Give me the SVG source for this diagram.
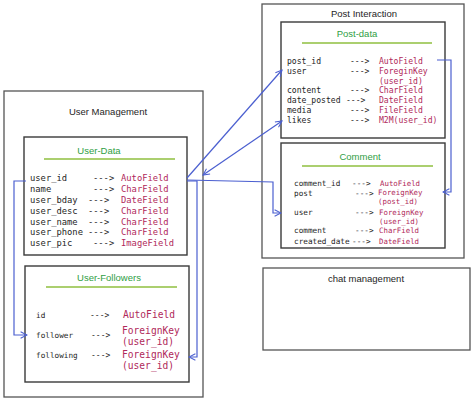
<svg xmlns="http://www.w3.org/2000/svg" width="474" height="408" viewBox="0 0 474 408">
<defs>
<style>
.box{fill:#fff;stroke:#3a3a3a;stroke-width:1.4}
.outer{fill:#fff;stroke:#555;stroke-width:1.3}
.title{font-family:"Liberation Sans",Arial,sans-serif;font-size:9.5px;fill:#1e1e1e;text-anchor:middle}
.sub{font-family:"Liberation Sans",Arial,sans-serif;font-size:9.5px;fill:#2f9e44;text-anchor:middle}
.ul{stroke:#8fbf3f;stroke-width:1.6}
.n{font-family:"DejaVu Sans Mono","Liberation Mono",monospace;fill:#1e1e1e}
.t{font-family:"DejaVu Sans Mono","Liberation Mono",monospace;fill:#b0285a}
.c{fill:none;stroke:#4b5fd0;stroke-width:1.2}
</style>
<marker id="ah" viewBox="0 0 10 10" refX="9" refY="5" markerWidth="8" markerHeight="8" orient="auto-start-reverse" markerUnits="userSpaceOnUse">
<path d="M1,1 L9,5 L1,9" fill="none" stroke="#4b5fd0" stroke-width="1.3"/>
</marker>
</defs>
<rect width="474" height="408" fill="#fff"/>

<g id="user-management">
<rect class="outer" x="4" y="91" width="199" height="306"/>
<text class="title" x="108" y="115">User Management</text>
</g>

<g id="user-data">
<rect class="box" x="24" y="137" width="163" height="118"/>
<text class="sub" x="99" y="154">User-Data</text>
<line class="ul" x1="44" y1="159" x2="175" y2="159"/>
<g font-size="8.8">
<text class="n" x="30" y="181">user_id</text>
<text class="n" x="30" y="192">name</text>
<text class="n" x="30" y="203">user_bday</text>
<text class="n" x="30" y="214">user_desc</text>
<text class="n" x="30" y="225">user_name</text>
<text class="n" x="30" y="235">user_phone</text>
<text class="n" x="30" y="246">user_pic</text>
<text class="n" x="93" y="181">---&gt;</text>
<text class="n" x="93" y="192">---&gt;</text>
<text class="n" x="88" y="203">---&gt;</text>
<text class="n" x="88" y="214">---&gt;</text>
<text class="n" x="88" y="225">---&gt;</text>
<text class="n" x="88" y="235">---&gt;</text>
<text class="n" x="93" y="246">---&gt;</text>
<text class="t" x="121" y="181">AutoField</text>
<text class="t" x="121" y="192">CharField</text>
<text class="t" x="121" y="203">DateField</text>
<text class="t" x="121" y="214">CharField</text>
<text class="t" x="121" y="225">CharField</text>
<text class="t" x="121" y="235">CharField</text>
<text class="t" x="121" y="246">ImageField</text>
</g>
</g>

<g id="user-followers">
<rect class="box" x="25" y="266" width="164" height="116"/>
<text class="sub" x="109" y="281">User-Followers</text>
<line class="ul" x1="46" y1="287" x2="177" y2="287"/>
<text class="n" x="36" y="318" font-size="7.7">id</text>
<text class="n" x="36" y="338" font-size="7.7">follower</text>
<text class="n" x="36" y="358" font-size="7.7">following</text>
<text class="n" x="90" y="318" font-size="8">---&gt;</text>
<text class="n" x="91" y="338" font-size="8">---&gt;</text>
<text class="n" x="91" y="358" font-size="8">---&gt;</text>
<g font-size="9.6">
<text class="t" x="123" y="318">AutoField</text>
<text class="t" x="122" y="334">ForeignKey</text>
<text class="t" x="122" y="345">(user_id)</text>
<text class="t" x="122" y="358">ForeignKey</text>
<text class="t" x="122" y="369">(user_id)</text>
</g>
</g>

<g id="post-interaction">
<rect class="outer" x="262" y="4" width="202" height="254"/>
<text class="title" x="364" y="17">Post Interaction</text>
</g>

<g id="post-data">
<rect class="box" x="281" y="22" width="164" height="116"/>
<text class="sub" x="357" y="37">Post-data</text>
<line class="ul" x1="302" y1="43" x2="432" y2="43"/>
<g font-size="8.1">
<text class="n" x="287" y="64">post_id</text>
<text class="n" x="287" y="74">user</text>
<text class="n" x="287" y="93">content</text>
<text class="n" x="287" y="103">date_posted</text>
<text class="n" x="287" y="113">media</text>
<text class="n" x="287" y="123">likes</text>
<text class="n" x="350" y="64">---&gt;</text>
<text class="n" x="350" y="74">---&gt;</text>
<text class="n" x="350" y="93">---&gt;</text>
<text class="n" x="346" y="103">---&gt;</text>
<text class="n" x="350" y="113">---&gt;</text>
<text class="n" x="350" y="123">---&gt;</text>
<text class="t" x="379" y="64">AutoField</text>
<text class="t" x="379" y="74">ForeginKey</text>
<text class="t" x="379" y="84">(user_id)</text>
<text class="t" x="379" y="93">CharField</text>
<text class="t" x="379" y="103">DateField</text>
<text class="t" x="379" y="113">FileField</text>
<text class="t" x="379" y="123">M2M(user_id)</text>
</g>
</g>

<g id="comment">
<rect class="box" x="281" y="143" width="164" height="105"/>
<text class="sub" x="360" y="160">Comment</text>
<line class="ul" x1="302" y1="166" x2="433" y2="166"/>
<g font-size="7.7">
<text class="n" x="294" y="186">comment_id</text>
<text class="n" x="294" y="196">post</text>
<text class="n" x="294" y="215">user</text>
<text class="n" x="294" y="233">comment</text>
<text class="n" x="294" y="244">created_date</text>
<text class="n" x="352" y="186">---&gt;</text>
<text class="n" x="355" y="196">---&gt;</text>
<text class="n" x="355" y="215">---&gt;</text>
<text class="n" x="355" y="233">---&gt;</text>
<text class="n" x="352" y="244">---&gt;</text>
</g>
<g font-size="7.4">
<text class="t" x="380" y="186">AutoField</text>
<text class="t" x="378" y="195">ForeignKey</text>
<text class="t" x="378" y="204">(post_id)</text>
<text class="t" x="379" y="215">ForeignKey</text>
<text class="t" x="379" y="224">(user_id)</text>
<text class="t" x="379" y="233">CharField</text>
<text class="t" x="379" y="244">DateField</text>
</g>
</g>

<g id="chat-management">
<rect class="outer" x="263" y="268" width="207" height="82"/>
<text class="title" x="366" y="282">chat management</text>
</g>

<g id="connectors">
<path class="c" d="M26,181 H14 V335 H27" marker-end="url(#ah)"/>
<path class="c" d="M187,181 H197 V357 H189" marker-end="url(#ah)"/>
<path class="c" d="M187,180 L273,182 V213 H281" marker-end="url(#ah)"/>
<path class="c" d="M187,178 L282,70" stroke="#8d9be6" stroke-width="2" marker-end="url(#ah)"/>
<path class="c" d="M203,175 L282,121" marker-start="url(#ah)" marker-end="url(#ah)"/>
<path class="c" d="M437,60 H451 V192 H443" marker-end="url(#ah)"/>
</g>
</svg>
